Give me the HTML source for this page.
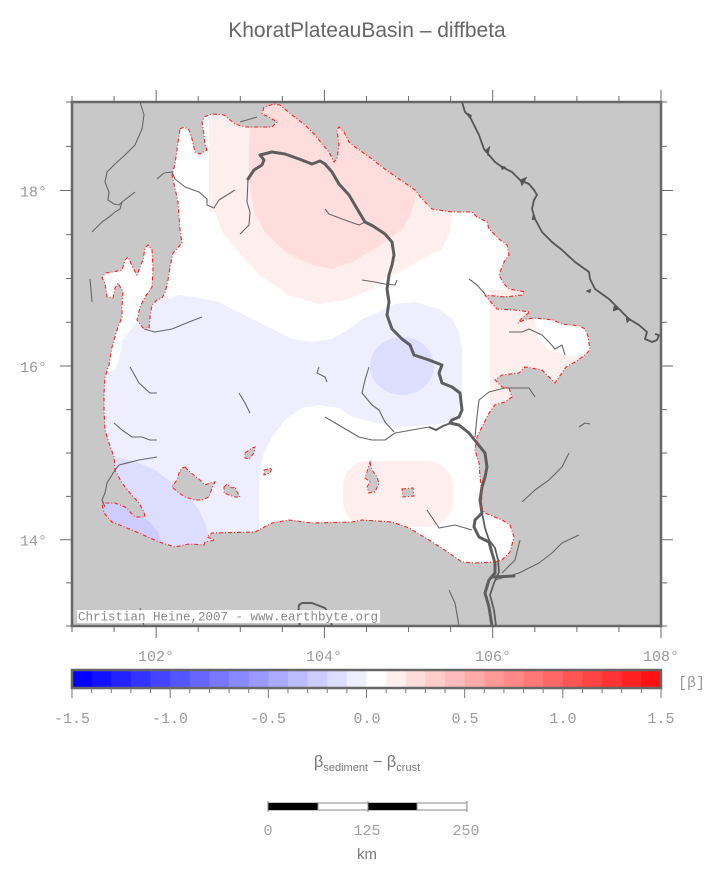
<!DOCTYPE html>
<html><head><meta charset="utf-8"><style>
html,body{margin:0;padding:0;background:#fff;}
svg{display:block;}
.m{font-family:"Liberation Mono",monospace;fill:#999;font-size:15px;}
</style></head><body>
<svg width="720" height="880" viewBox="0 0 720 880" xmlns="http://www.w3.org/2000/svg">
<defs>
<clipPath id="map"><rect x="72" y="102" width="589" height="524"/></clipPath>
<clipPath id="basin"><path id="bp" d="M180,129 L184,127 189,130 192,139 195,152 200,154 207,150 205,145 204,135 202,122 204,117 212,114 224,115 235,124 245,127 272,127 277,122 269,117 262,114 264,107 274,104 280,105 292,115 305,125 315,135 322,144 329,152 334,162 337,159 339,145 337,130 339,127 344,132 349,142 355,147 365,154 372,159 382,167 399,179 415,190 422,199 432,209 452,212 472,212 477,217 487,222 489,229 499,239 507,245 509,255 504,262 499,275 504,284 509,289 525,292 522,295 505,297 485,295 489,300 497,309 515,310 530,312 522,318 518,323 526,319 535,318 553,320 562,324 580,326 585,329 588,336 590,350 585,355 575,362 566,367 555,383 549,377 542,370 525,367 519,373 502,375 495,380 502,387 509,388 512,397 505,402 495,405 489,413 482,427 477,437 475,450 479,463 480,477 482,493 481,507 485,513 502,520 510,525 514,537 510,552 502,560 494,562 475,563 462,562 449,553 429,540 409,528 392,522 362,520 352,522 312,523 289,520 272,523 255,532 212,533 207,537 215,540 205,542 204,545 189,544 175,547 159,542 132,530 112,522 104,513 102,503 115,503 125,507 135,517 145,517 144,512 139,503 130,493 122,483 115,470 114,457 109,443 105,430 104,410 104,393 105,377 109,365 112,347 117,330 122,317 122,307 123,292 118,283 115,288 113,298 107,297 105,283 102,278 105,273 113,272 122,270 125,260 128,257 133,268 137,275 140,267 143,260 145,248 148,245 152,250 153,270 152,287 145,297 140,307 137,320 143,328 149,328 150,317 152,305 157,300 162,298 165,293 168,280 170,267 173,253 182,243 180,230 178,202 172,175 175,164 Z"/></clipPath>
</defs>

<!-- title -->
<text x="367" y="37" text-anchor="middle" font-family="Liberation Sans, sans-serif" font-size="21" fill="#666">KhoratPlateauBasin – diffbeta</text>

<!-- map background -->
<rect x="72" y="102" width="589" height="524" fill="#c8c8c8"/>

<g clip-path="url(#map)">
<use href="#bp" fill="#fff"/>
<g clip-path="url(#basin)">
  <polygon fill="#eeeeff" points="172,298 179,295 205,299 219,302 232,309 252,319 272,329 292,339 312,342 332,339 349,329 362,319 372,315 395,304 415,302 439,309 452,319 459,332 462,349 462,393 459,410 452,422 429,425 395,427 372,422 352,417 339,408 319,405 302,408 285,420 272,437 264,453 260,470 259,500 259,560 95,560 95,375 115,370 119,360 123,340 133,327 150,303 160,299"/>
  <ellipse cx="402" cy="366" rx="32" ry="29" fill="#ddddff"/>
  <polygon fill="#ddddff" points="95,455 119,458 139,463 155,470 172,483 189,497 199,510 205,523 209,537 210,560 95,560"/>
  <polygon fill="#ccccff" points="95,497 118,503 135,513 150,522 158,532 163,545 160,560 95,560"/>
  <polygon fill="#ffeeee" points="209,100 209,212 215,212 222,232 239,252 259,275 289,295 319,304 349,299 372,289 382,279 395,274 412,265 429,255 442,249 450,232 452,212 456,100"/>
  <polygon fill="#ffdddd" points="252,100 420,100 416,195 412,212 402,229 389,239 375,249 362,256 355,261 332,269 312,265 285,252 265,232 254,212 249,179 249,145"/>
  <rect x="343" y="461" width="110" height="66" rx="26" ry="26" fill="#ffeeee"/>
  <rect x="490" y="290" width="115" height="122" fill="#ffeeee"/>
  <polygon fill="#ffffff" points="534,317 598,317 598,356 570,356 548,350 538,338"/>
</g>

<g fill="#c8c8c8" stroke="#ff2020" stroke-width="1" stroke-dasharray="4 2 1 2">
  <polygon points="185,467 190,472 200,480 205,485 210,483 215,482 212,488 209,497 202,500 195,500 185,497 179,493 172,487 177,480 179,473 182,468"/>
  <polygon points="224,487 227,484 232,488 235,487 237,492 240,497 235,497 229,495 224,493"/>
  <polygon points="245,453 252,448 255,447 254,453 249,459 245,458"/>
  <polygon points="264,470 272,468 270,473 264,475"/>
  <polygon points="370,462 372,470 377,477 379,483 375,492 369,493 367,487 370,482 365,478 367,472"/>
  <polygon points="402,489 413,488 414,496 403,497"/>
</g>

<g fill="none" stroke="#666" stroke-width="1.1" stroke-linejoin="round">
  <polyline points="140,102 144,115 142,129 135,145 125,155 115,164 107,172 105,182 109,192 108,200 114,204 119,205 122,202 135,192"/>
  <polyline points="122,202 120,209 115,212 109,217 102,222 92,232"/>
  <polyline points="90,279 91,290 92,302"/>
  <polyline points="157,179 164,173 172,172 175,179 185,187 199,192 207,199 207,205 214,208 219,200 235,190"/>
  <polyline points="248,179 247,202 250,212 249,225 240,234"/>
  <polyline points="325,209 329,214 342,219 359,225 365,222"/>
  <polyline points="240,122 257,117"/>
  <polyline points="144,329 155,332 172,329 189,322 202,317"/>
  <polyline points="362,280 375,282 385,284 395,285 397,280"/>
  <polyline points="469,279 477,285 485,294"/>
  <polyline points="509,332 522,332 529,329 542,335 549,342 555,349 562,345 565,355"/>
  <polyline points="130,367 139,383 150,393 157,393"/>
  <polyline points="114,423 122,430 132,437 142,437 150,440 157,440"/>
  <polyline points="157,457 139,460 119,465 115,470 107,483 105,493 102,500 105,507"/>
  <polyline points="239,393 245,403 250,413"/>
  <polyline points="319,367 317,373 325,377 327,382"/>
  <polyline points="325,417 342,427 359,437 372,440 385,440 395,433 412,430 429,427"/>
  <polyline points="369,367 365,380 362,393 372,405 379,410 385,422 394,432"/>
  <polyline points="427,510 439,528 455,525 472,530"/>
  <polyline points="449,590 455,603 459,626"/>
  <polyline points="140,608 144,626"/>
  <polyline points="475,437 477,417 479,400 489,392 505,388 529,388 535,397"/>
  <polyline points="579,427 585,423 590,424"/>
  <polyline points="569,453 562,467 549,480 535,490 522,502"/>
  <polyline points="579,535 562,543 552,553 539,563 519,573 495,580"/>
  <polyline points="520,540 515,560 502,573"/>
</g>

<polyline fill="none" stroke="#5f5f5f" stroke-width="2" points="429,427 436,430 443,426 451,423"/>

<g fill="none" stroke="#5e5e5e" stroke-linejoin="round" stroke-linecap="round">
  <polyline stroke-width="3" points="248,179 254,170 262,165 264,160 260,155 272,152 285,154 299,159 312,164 320,161 325,164 332,172 339,184 349,195 359,212 365,222 373,226 385,234 392,242 394,255 392,265 389,275 387,289 389,302 387,315 392,329 402,339 410,345 414,355 429,360 442,365 439,373 442,383 452,387 460,393 462,410 459,417 452,420 450,423 459,425 469,433 477,443 485,453 487,467 485,477 482,487 480,500 482,513 475,520 474,527 479,537 489,542 492,553 495,563 495,573 489,580 485,593 489,607 492,626"/>
  <polyline stroke-width="1.8" points="482,513 485,528 489,540 495,548 498,560 499,572 494,583 490,595 494,610 496,626"/>
  <polyline stroke-width="3" points="492,577 514,576"/>
  <polyline stroke-width="2" points="300,626 298,614 299,605 302,603 312,603 325,608 330,616 332,626"/>
</g>

<use href="#bp" fill="none" stroke="#ff2020" stroke-width="1.1" stroke-dasharray="4 2 1 2"/>

<g fill="#555" stroke="#555" stroke-linejoin="round">
  <polyline fill="none" stroke-width="1.8" points="462,102 465,112 470,117 474,125 479,135 484,149 489,155 495,162 502,167 512,172 520,180 529,184 534,190 537,195 534,200 532,209 535,219 542,232 552,242 562,250 575,262 589,272 590,279 595,289 609,299 619,309 629,319 639,325 647,332 645,339 652,342 657,340 659,335 655,334"/>
  <polygon stroke-width="0.5" points="486,150 490,146 488,156"/>
  <polygon stroke-width="0.5" points="520,180 527,177 522,186"/>
  <polygon stroke-width="0.5" points="501,166 506,167 502,170"/>
  <polygon stroke-width="0.5" points="468,113 472,116 469,118"/>
  <polygon stroke-width="0.5" points="533,215 536,219 532,220"/>
  <polygon stroke-width="0.5" points="591,289 586,291 590,293"/>
  <polygon stroke-width="0.5" points="614,306 620,309 613,311"/>
  <polygon stroke-width="0.5" points="626,318 631,319 627,323"/>
</g>
</g>

<rect x="77" y="610" width="303" height="13" fill="#fff"/>
<text x="78" y="620.5" font-family="Liberation Mono, monospace" font-size="12.5" fill="#888">Christian Heine,2007 - www.earthbyte.org</text>

<rect x="72" y="102" width="589" height="524" fill="none" stroke="#676767" stroke-width="2.5"/>

<g stroke="#6a6a6a" stroke-width="1" fill="none">
  <path d="M72,96V102 M114.07,96V102 M156.14,90V102 M198.21,96V102 M240.29,96V102 M282.36,96V102 M324.43,90V102 M366.5,96V102 M408.57,96V102 M450.64,96V102 M492.71,90V102 M534.79,96V102 M576.86,96V102 M618.93,96V102 M661,90V102"/>
  <path d="M72,626V632 M114.07,626V632 M156.14,626V638 M198.21,626V632 M240.29,626V632 M282.36,626V632 M324.43,626V638 M366.5,626V632 M408.57,626V632 M450.64,626V632 M492.71,626V638 M534.79,626V632 M576.86,626V632 M618.93,626V632 M661,626V638"/>
  <path d="M66,626H72 M66,582.9H72 M60,539.7H72 M66,496.4H72 M66,453H72 M66,409.6H72 M60,366H72 M66,322.3H72 M66,278.5H72 M66,234.6H72 M60,190.5H72 M66,146.4H72 M66,102H72"/>
  <path d="M661,626H667 M661,582.9H667 M661,539.7H673 M661,496.4H667 M661,453H667 M661,409.6H667 M661,366H673 M661,322.3H667 M661,278.5H667 M661,234.6H667 M661,190.5H673 M661,146.4H667 M661,102H667"/>
</g>

<g class="m">
  <text x="47" y="196.5" text-anchor="end">18°</text>
  <text x="47" y="372" text-anchor="end">16°</text>
  <text x="47" y="545.5" text-anchor="end">14°</text>
  <text x="156" y="661" text-anchor="middle">102°</text>
  <text x="324" y="661" text-anchor="middle">104°</text>
  <text x="493" y="661" text-anchor="middle">106°</text>
  <text x="661" y="661" text-anchor="middle">108°</text>
</g>

<g>
  <rect x="72" y="670" width="20" height="18" fill="rgb(0,0,255)"/>
  <rect x="91.63" y="670" width="20" height="18" fill="rgb(17,17,255)"/>
  <rect x="111.27" y="670" width="20" height="18" fill="rgb(34,34,255)"/>
  <rect x="130.9" y="670" width="20" height="18" fill="rgb(51,51,255)"/>
  <rect x="150.53" y="670" width="20" height="18" fill="rgb(68,68,255)"/>
  <rect x="170.17" y="670" width="20" height="18" fill="rgb(85,85,255)"/>
  <rect x="189.8" y="670" width="20" height="18" fill="rgb(102,102,255)"/>
  <rect x="209.43" y="670" width="20" height="18" fill="rgb(119,119,255)"/>
  <rect x="229.07" y="670" width="20" height="18" fill="rgb(136,136,255)"/>
  <rect x="248.7" y="670" width="20" height="18" fill="rgb(153,153,255)"/>
  <rect x="268.33" y="670" width="20" height="18" fill="rgb(170,170,255)"/>
  <rect x="287.97" y="670" width="20" height="18" fill="rgb(187,187,255)"/>
  <rect x="307.6" y="670" width="20" height="18" fill="rgb(204,204,255)"/>
  <rect x="327.23" y="670" width="20" height="18" fill="rgb(221,221,255)"/>
  <rect x="346.87" y="670" width="20" height="18" fill="rgb(238,238,255)"/>
  <rect x="366.5" y="670" width="20" height="18" fill="rgb(255,255,255)"/>
  <rect x="386.13" y="670" width="20" height="18" fill="rgb(255,238,238)"/>
  <rect x="405.77" y="670" width="20" height="18" fill="rgb(255,221,221)"/>
  <rect x="425.4" y="670" width="20" height="18" fill="rgb(255,204,204)"/>
  <rect x="445.03" y="670" width="20" height="18" fill="rgb(255,187,187)"/>
  <rect x="464.67" y="670" width="20" height="18" fill="rgb(255,170,170)"/>
  <rect x="484.3" y="670" width="20" height="18" fill="rgb(255,153,153)"/>
  <rect x="503.93" y="670" width="20" height="18" fill="rgb(255,136,136)"/>
  <rect x="523.57" y="670" width="20" height="18" fill="rgb(255,119,119)"/>
  <rect x="543.2" y="670" width="20" height="18" fill="rgb(255,102,102)"/>
  <rect x="562.83" y="670" width="20" height="18" fill="rgb(255,85,85)"/>
  <rect x="582.47" y="670" width="20" height="18" fill="rgb(255,68,68)"/>
  <rect x="602.1" y="670" width="20" height="18" fill="rgb(255,51,51)"/>
  <rect x="621.73" y="670" width="20" height="18" fill="rgb(255,34,34)"/>
  <rect x="641.37" y="670" width="19.63" height="18" fill="rgb(255,17,17)"/>
  <rect x="72" y="670" width="589" height="18" fill="none" stroke="#666" stroke-width="2.5"/>
</g>
<g stroke="#777" stroke-width="1">
  <path d="M72,688V698 M91.63,688V693 M111.27,688V693 M130.9,688V693 M150.53,688V693 M170.17,688V698 M189.8,688V693 M209.43,688V693 M229.07,688V693 M248.7,688V693 M268.33,688V698 M287.97,688V693 M307.6,688V693 M327.23,688V693 M346.87,688V693 M366.5,688V698 M386.13,688V693 M405.77,688V693 M425.4,688V693 M445.03,688V693 M464.67,688V698 M484.3,688V693 M503.93,688V693 M523.57,688V693 M543.2,688V693 M562.83,688V698 M582.47,688V693 M602.1,688V693 M621.73,688V693 M641.37,688V693 M661,688V698"/>
</g>
<g class="m" text-anchor="middle">
  <text x="72" y="723">-1.5</text>
  <text x="170" y="723">-1.0</text>
  <text x="268" y="723">-0.5</text>
  <text x="367" y="723">0.0</text>
  <text x="465" y="723">0.5</text>
  <text x="563" y="723">1.0</text>
  <text x="661" y="723">1.5</text>
</g>
<text x="678" y="687" class="m">[β]</text>

<text x="367" y="767" text-anchor="middle" font-family="Liberation Sans, sans-serif" font-size="16.5" fill="#777">β<tspan font-size="11" dy="4">sediment</tspan><tspan dy="-4"> − β</tspan><tspan font-size="11" dy="4">crust</tspan></text>

<rect x="268" y="803" width="199" height="7" fill="#fff" stroke="#888" stroke-width="1"/>
<rect x="268" y="803" width="50" height="7" fill="#000"/>
<rect x="368" y="803" width="49" height="7" fill="#000"/>
<path d="M268,801V812 M318,803V810 M368,801V812 M417,803V810 M467,801V812" stroke="#888" stroke-width="1"/>
<g class="m" text-anchor="middle" style="fill:#a0a0a0">
  <text x="268" y="835">0</text>
  <text x="367" y="835">125</text>
  <text x="466" y="835">250</text>
</g>
<text x="367" y="859" text-anchor="middle" font-family="Liberation Sans, sans-serif" font-size="15" fill="#777">km</text>
</svg>
</body></html>
